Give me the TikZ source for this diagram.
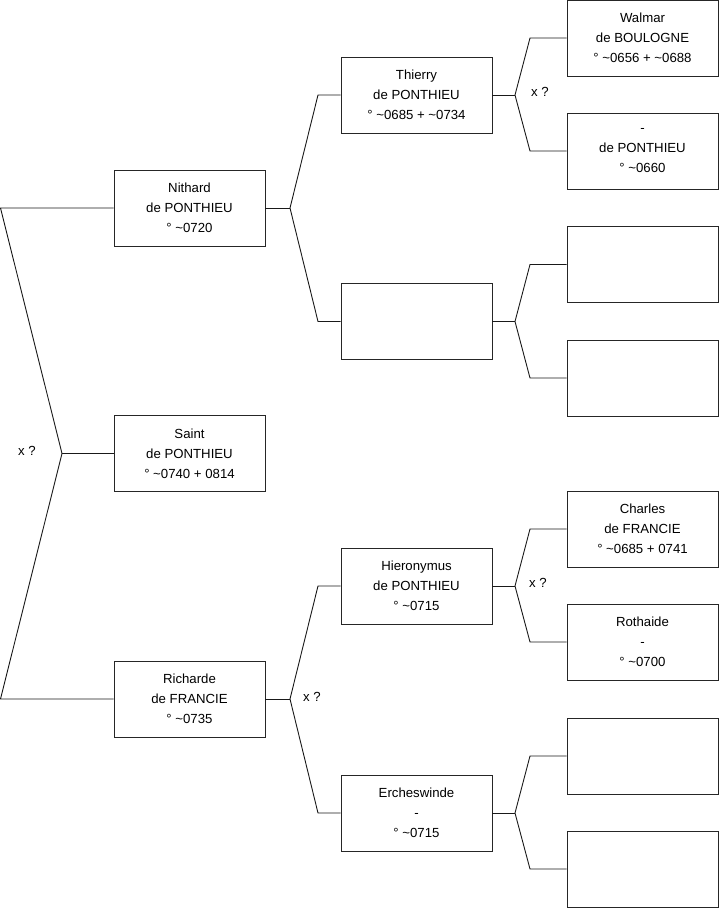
\documentclass[tikz,border=0pt]{standalone}
\usepackage{fontspec}
\setmainfont{Liberation Sans}
\usepackage{tikz}
\usetikzlibrary{positioning}

\tikzset{
  person/.style={draw=black!85,line width=0.9pt,minimum width=151pt,minimum height=76pt,inner sep=0pt,align=center,font=\fontsize{13.2}{20}\selectfont},
  link/.style={draw=black!90,line width=0.9pt},
  unionmark/.style={font=\fontsize{13.2}{14}\selectfont}
}

\begin{document}
\begin{tikzpicture}[x=1pt,y=-1pt]
\useasboundingbox (0,0) rectangle (719,908);
% generation 1
\node[person] (nithard) at (189.5,208) {Nithard\\de PONTHIEU\\° \textasciitilde0720};
\node[person] (saint) at (189.5,453.5) {Saint\\de PONTHIEU\\° \textasciitilde0740 + 0814};
\node[person] (richarde) at (189.5,699) {Richarde\\de FRANCIE\\° \textasciitilde0735};
% generation 2
\node[person] (thierry) at (416.5,95) {Thierry\\de PONTHIEU\\° \textasciitilde0685 + \textasciitilde0734};
\node[person] (empA) at (416.5,321.5) {};
\node[person] (hieron) at (416.5,586) {Hieronymus\\de PONTHIEU\\° \textasciitilde0715};
\node[person] (erches) at (416.5,813) {Ercheswinde\\-\\° \textasciitilde0715};
% generation 3
\node[person] (walmar) at (642.5,38) {Walmar\\de BOULOGNE\\° \textasciitilde0656 + \textasciitilde0688};
\node[person] (ponth) at (642.5,151) {-\\de PONTHIEU\\° \textasciitilde0660};
\node[person] (empB) at (642.5,264.5) {};
\node[person] (empC) at (642.5,378) {};
\node[person] (charles) at (642.5,529) {Charles\\de FRANCIE\\° \textasciitilde0685 + 0741};
\node[person] (roth) at (642.5,642) {Rothaide\\-\\° \textasciitilde0700};
\node[person] (empD) at (642.5,756) {};
\node[person] (empE) at (642.5,869) {};

% forks
\coordinate (rootT) at (0.5,208);
\coordinate (rootM) at (62,453.5);
\coordinate (rootB) at (0.5,699);
\draw[link] (nithard.west) -- (rootT) -- (rootM) -- (rootB) -- (richarde.west);
\draw[link] (rootM) -- (saint.west);
\node[unionmark] (xroot) at (27,451) {x ?};

\coordinate (nitF) at (290,208);
\draw[link] (nithard.east) -- (nitF);
\draw[link] (nitF) -- (318,95) -- (thierry.west);
\draw[link] (nitF) -- (318,321.5) -- (empA.west);

\coordinate (ricF) at (290,699);
\draw[link] (richarde.east) -- (ricF);
\draw[link] (ricF) -- (318,586) -- (hieron.west);
\draw[link] (ricF) -- (318,813) -- (erches.west);
\node[unionmark] (xric) at (312,697) {x ?};

\coordinate (thiF) at (515,95);
\draw[link] (thierry.east) -- (thiF);
\draw[link] (thiF) -- (530,38) -- (walmar.west);
\draw[link] (thiF) -- (530,151) -- (ponth.west);
\node[unionmark] (xthi) at (540,92) {x ?};

\coordinate (empF) at (515,321.5);
\draw[link] (empA.east) -- (empF);
\draw[link] (empF) -- (530,264.5) -- (empB.west);
\draw[link] (empF) -- (530,378) -- (empC.west);

\coordinate (hieF) at (515,586);
\draw[link] (hieron.east) -- (hieF);
\draw[link] (hieF) -- (530,529) -- (charles.west);
\draw[link] (hieF) -- (530,642) -- (roth.west);
\node[unionmark] (xhie) at (538,583) {x ?};

\coordinate (ercF) at (515,813);
\draw[link] (erches.east) -- (ercF);
\draw[link] (ercF) -- (530,756) -- (empD.west);
\draw[link] (ercF) -- (530,869) -- (empE.west);
\end{tikzpicture}
\end{document}
